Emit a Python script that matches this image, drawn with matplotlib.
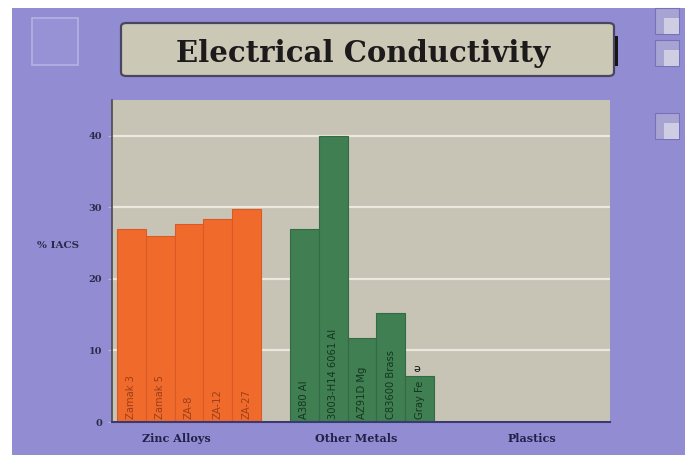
import matplotlib
matplotlib.use("Agg")
import matplotlib.pyplot as plt
from matplotlib.patches import FancyBboxPatch, Rectangle

# Conductivity data (% IACS)
zinc_names = ["Zamak 3", "Zamak 5", "ZA-8", "ZA-12", "ZA-27"]
zinc_values = [27.0, 26.0, 27.7, 28.3, 29.7]
metal_names = ["A380 Al", "3003-H14 6061 Al", "AZ91D Mg", "C83600 Brass", "Gray Fe"]
metal_values = [27.0, 40.0, 11.7, 15.2, 6.4]
group_labels = ["Zinc Alloys", "Other Metals", "Plastics"]
y_ticks = [0, 10, 20, 30, 40]

PURPLE = "#928dd3"
PLOT_BG = "#c7c4b5"
ORANGE = "#f06a2c"
GREEN = "#3f7f52"
SERIF = "DejaVu Serif"

W, H = 692, 463
fig = plt.figure(figsize=(W / 100, H / 100), dpi=100)
fig.patch.set_facecolor("white")


def fx(px):
    return px / W


def fy(py):
    return 1 - py / H


# lavender panel behind everything
fig.patches.append(Rectangle((fx(12), fy(455)), fx(673), (455 - 8) / H,
                             transform=fig.transFigure, facecolor=PURPLE,
                             edgecolor="none", zorder=-10))

# small bevelled button at top left
fig.patches.append(Rectangle((fx(32), fy(65)), fx(46), 47 / H,
                             transform=fig.transFigure, facecolor="#9792d6",
                             edgecolor="#b5b2e4", lw=1.2, zorder=-5))
# icons on the right edge
for top in (8, 40, 113):
    fig.patches.append(Rectangle((fx(655), fy(top + 26)), fx(24), 26 / H,
                                 transform=fig.transFigure, facecolor="#a7a4d4",
                                 edgecolor="#7772b8", lw=0.8, zorder=-5))
    fig.patches.append(Rectangle((fx(664), fy(top + 26)), fx(15), 16 / H,
                                 transform=fig.transFigure, facecolor="#cfcde2",
                                 edgecolor="none", zorder=-4))

# title box
fig.patches.append(FancyBboxPatch((fx(121), fy(76)), fx(493), 53 / H,
                                  boxstyle="round,pad=0,rounding_size=0.008",
                                  transform=fig.transFigure, facecolor="#ccc8b6",
                                  edgecolor="#4a4660", lw=1.6, zorder=-5))
fig.patches.append(Rectangle((fx(615), fy(66)), fx(3), 30 / H,
                             transform=fig.transFigure, facecolor="#151515",
                             edgecolor="none", zorder=-4))
fig.text(fx(363), fy(53), "Electrical Conductivity", ha="center", va="center",
         fontsize=21, fontweight="bold", family=SERIF, color="#1c1a1a", zorder=3)

# plot area
ax = fig.add_axes([fx(112), fy(422), fx(498), (422 - 100) / H])
ax.set_zorder(1)
ax.set_facecolor(PLOT_BG)
ax.set_xlim(-0.67, 16.6)
ax.set_ylim(0, 45)

zinc_x = list(range(len(zinc_values)))
metal_x = [i + len(zinc_values) + 1 for i in range(len(metal_values))]

ax.bar(zinc_x, zinc_values, width=1.0, color=ORANGE, edgecolor="#d95a24",
       linewidth=0.8, zorder=2)
ax.bar(metal_x, metal_values, width=1.0, color=GREEN, edgecolor="#346b45",
       linewidth=0.8, zorder=2)

for x, name in zip(zinc_x, zinc_names):
    ax.text(x, 0.4, name, rotation=90, ha="center", va="bottom", fontsize=7.2,
            color="#9c3f18", zorder=3)
for x, name in zip(metal_x, metal_names):
    ax.text(x, 0.4, name, rotation=90, ha="center", va="bottom", fontsize=7.2,
            color="#17351f", zorder=3)
ax.text(metal_x[-1] - 0.1, metal_values[-1] + 0.3, "ə", ha="center", va="bottom",
        fontsize=8, color="#111111", zorder=3)

ax.set_yticks(y_ticks)
ax.set_yticklabels([str(v) for v in y_ticks], family=SERIF, fontweight="bold",
                   fontsize=7, color="#2b2a4a")
ax.yaxis.grid(True, color="#ebe8e0", linewidth=1.6, zorder=1)
ax.set_axisbelow(True)
ax.tick_params(axis="y", length=3, color="#b9b6dc", pad=4)
ax.set_xticks([])
for side in ("top", "right"):
    ax.spines[side].set_visible(False)
ax.spines["left"].set_color("#4a4a4a")
ax.spines["left"].set_linewidth(1.2)
ax.spines["bottom"].set_color("#3a3a70")
ax.spines["bottom"].set_linewidth(1.5)

fig.text(fx(58), fy(245), "% IACS", ha="center", va="center", family=SERIF,
         fontweight="bold", fontsize=7.5, color="#2b2a4a")

for pos, label in zip([1.55, 7.8, 13.9], group_labels):
    ax.text(pos, -1.6, label, ha="center", va="top", family=SERIF,
            fontweight="bold", fontsize=8, color="#22214a", clip_on=False)

fig.savefig("out.png", dpi=100, facecolor=fig.get_facecolor())
